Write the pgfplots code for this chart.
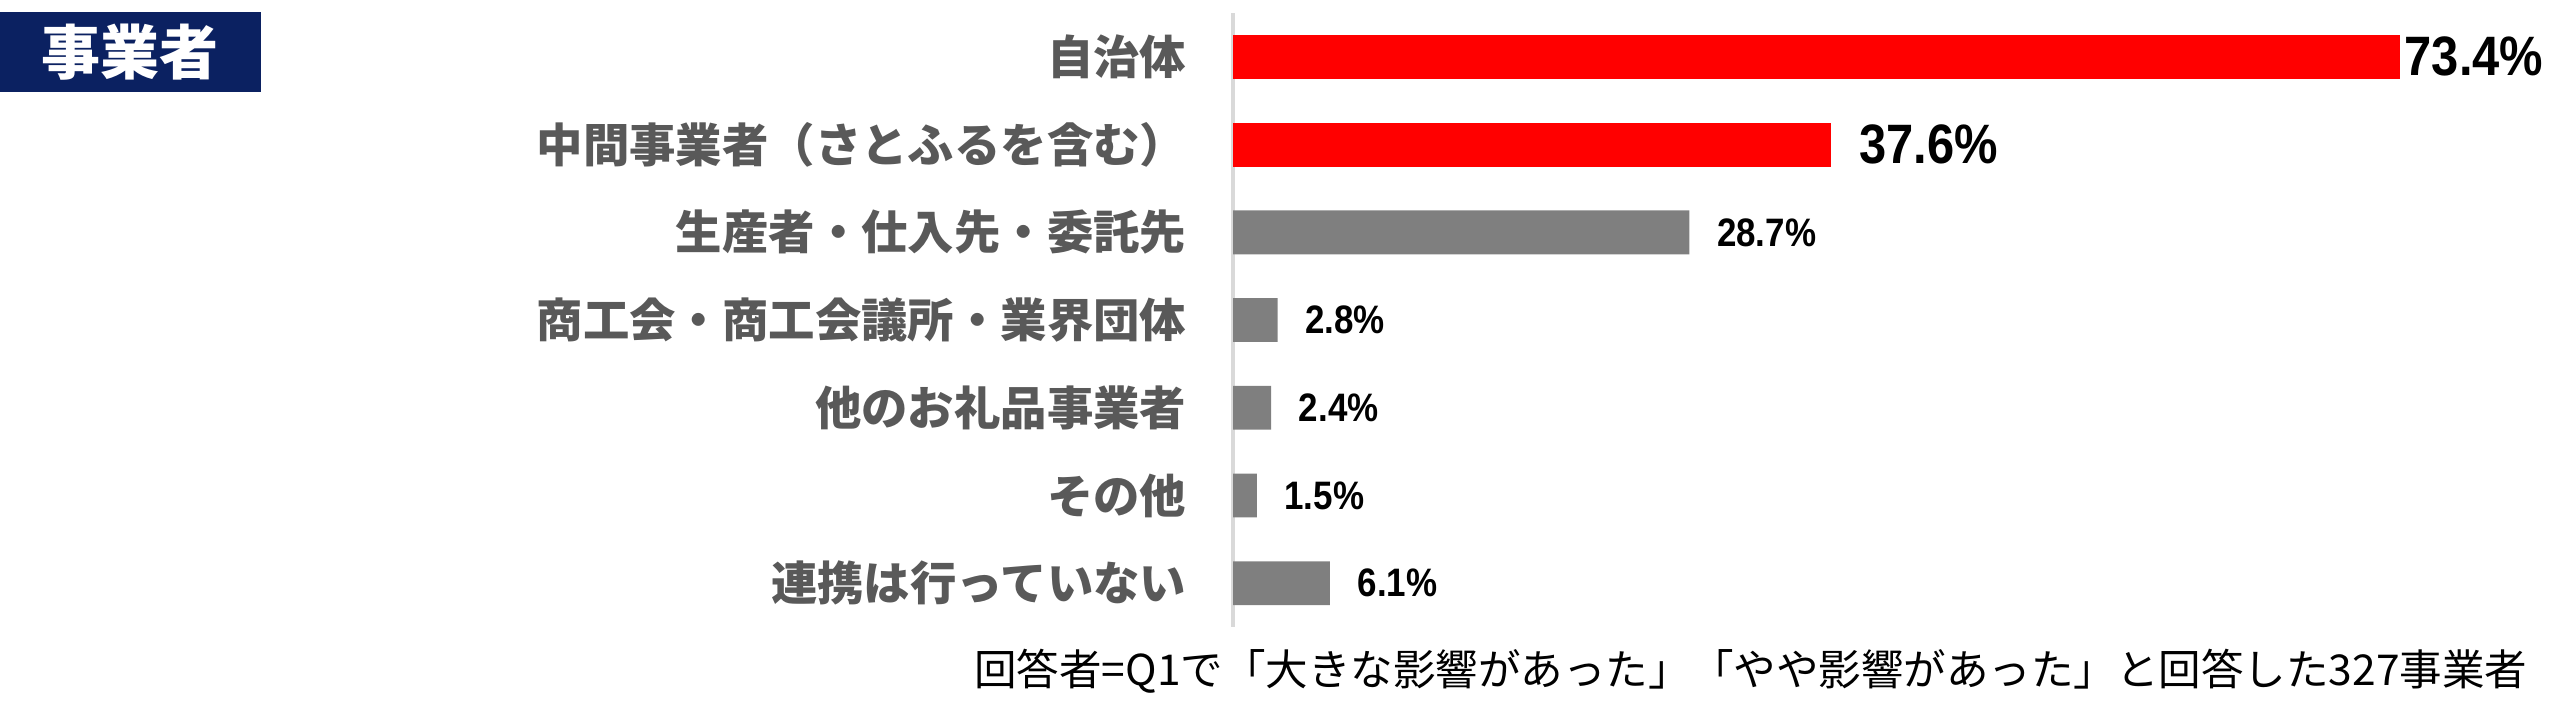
\documentclass[border=0pt]{standalone}
\usepackage{fontspec}
\usepackage{pgfplots}
\pgfplotsset{compat=1.18}
\setmainfont{Liberation Sans}
\newfontfamily\jp{Noto Sans CJK JP}
\newfontfamily\num[FakeStretch=0.88]{Liberation Sans}
\definecolor{navy}{HTML}{0B2161}
\definecolor{lbl}{HTML}{595959}
\definecolor{bargray}{HTML}{7F7F7F}
\definecolor{axgray}{HTML}{D9D9D9}

\begin{document}
\begin{tikzpicture}
\path[use as bounding box] (0,0) rectangle (25.6,-7.26);

% title box
\fill[navy] (0,-0.12) rectangle (2.61,-0.92);
\node[text=white, font=\jp\bfseries\fontsize{16.8pt}{18pt}\selectfont] at (1.30,-0.52) {事業者};

\begin{axis}[
  at={(12.33cm,-6.27cm)}, anchor=south west,
  scale only axis,
  width=12.72cm, height=6.14cm,
  xbar, bar width=0.5, bar shift=0pt,
  xmin=0, xmax=80,
  ymin=-0.5, ymax=6.5,
  y dir=reverse,
  axis x line=none,
  axis y line*=left,
  y axis line style={axgray, line width=1.2pt},
  ytick={0,...,6},
  major tick length=0pt,
  yticklabels={自治体, 中間事業者（さとふるを含む）, 生産者・仕入先・委託先, 商工会・商工会議所・業界団体, 他のお礼品事業者, その他, 連携は行っていない},
  yticklabel style={font=\jp\bfseries\fontsize{13.2pt}{15pt}\selectfont, text=lbl, anchor=east, inner sep=0pt, xshift=-0.46cm},
  clip=false,
  /pgf/number format/assume math mode=true,
  point meta=x,
  nodes near coords={\pgfmathprintnumber[fixed,precision=1,fixed zerofill]{\pgfplotspointmeta}\%},
  nodes near coords align={horizontal},
]
\addplot[fill=red, draw=none,
  every node near coord/.append style={anchor=west, inner sep=0pt, xshift=0.04cm, font=\num\bfseries\fontsize{15.8pt}{17pt}\selectfont, text=black}]
  coordinates {(73.4,0)};
\addplot[fill=red, draw=none,
  every node near coord/.append style={anchor=west, inner sep=0pt, xshift=0.28cm, font=\num\bfseries\fontsize{15.8pt}{17pt}\selectfont, text=black}]
  coordinates {(37.6,1)};
\addplot[fill=bargray, draw=none,
  every node near coord/.append style={anchor=west, inner sep=0pt, xshift=0.27cm, font=\num\bfseries\fontsize{11.3pt}{13pt}\selectfont, text=black}]
  coordinates {(28.7,2) (2.8,3) (2.4,4) (1.5,5) (6.1,6)};
\end{axis}

% footnote
\node[anchor=east, inner sep=0pt, font=\jp\fontsize{12.1pt}{14pt}\selectfont] at (25.28,-6.71)
  {回答者=Q1で「大きな影響があった」「やや影響があった」と回答した327事業者};
\end{tikzpicture}
\end{document}
